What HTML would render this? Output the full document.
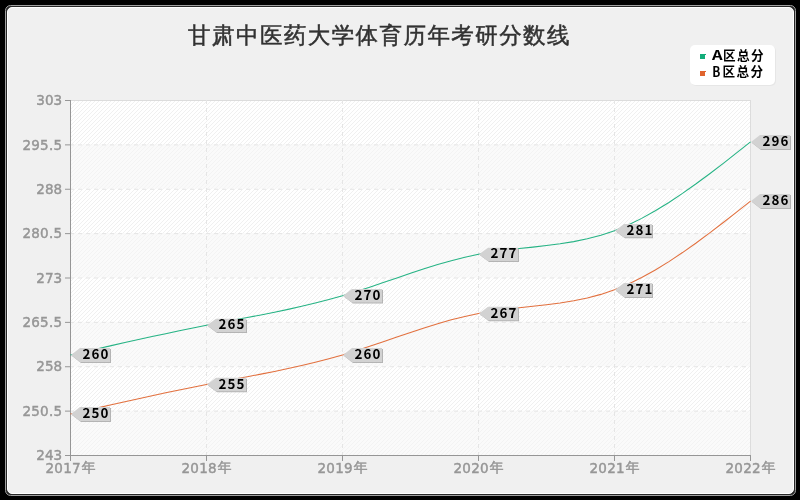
<!DOCTYPE html>
<html lang="zh"><head><meta charset="utf-8"><title>甘肃中医药大学体育历年考研分数线</title><style>html,body{margin:0;padding:0;background:#000;overflow:hidden}
svg{display:block}
.t{font-family:'DejaVu Sans','WenQuanYi Zen Hei','Liberation Sans','Noto Sans CJK SC',sans-serif;font-size:13.5px;fill:#969696;stroke:#969696;stroke-width:.45px}
.c{font-family:'WenQuanYi Zen Hei','Noto Sans CJK SC',sans-serif;font-size:13.8px}
.b{font-family:'Noto Sans CJK SC','Liberation Sans',sans-serif;font-weight:bold;font-size:14px;fill:#000}
.d{font-size:13.4px;letter-spacing:1.15px}
.l{font-size:13.4px}
.k{font-size:12.6px;letter-spacing:1.4px}
.h{font-family:'WenQuanYi Zen Hei','Noto Sans CJK SC','Liberation Sans',sans-serif;font-size:22.5px;letter-spacing:1.43px;fill:#323232;stroke:#323232;stroke-width:.5px}
</style></head><body>
<svg width="800" height="500" viewBox="0 0 800 500">
<defs><pattern id="st" width="4" height="4" patternUnits="userSpaceOnUse" x="71" y="101"><path d="M-1,5 L5,-1 M-1,1 L1,-1 M3,5 L5,3" stroke="#f0f0f0" stroke-width="1" fill="none"/></pattern></defs>
<rect width="800" height="500" fill="#000"/>
<rect x="5.5" y="5.5" width="790" height="490" rx="5" fill="#262626" stroke="#a0a0a0"/>
<rect x="7.5" y="7.5" width="786" height="486" rx="4.5" fill="#f0f0f0" stroke="#fff"/>
<rect x="70" y="100" width="681" height="356" fill="#fff"/>
<rect x="70" y="100" width="681" height="356" fill="url(#st)"/>
<rect x="70.5" y="100.5" width="680" height="355" fill="none" stroke="#dcdcdc"/>
<rect x="71" y="410.62" width="679" height="44.38" fill="rgba(245,245,245,0.5)"/>
<rect x="71" y="321.88" width="679" height="44.38" fill="rgba(245,245,245,0.5)"/>
<rect x="71" y="233.12" width="679" height="44.38" fill="rgba(245,245,245,0.5)"/>
<rect x="71" y="144.38" width="679" height="44.38" fill="rgba(245,245,245,0.5)"/>
<line x1="70" y1="411.12" x2="750" y2="411.12" stroke="#e5e5e5" stroke-dasharray="4 4"/>
<line x1="70" y1="366.75" x2="750" y2="366.75" stroke="#e5e5e5" stroke-dasharray="4 4"/>
<line x1="70" y1="322.38" x2="750" y2="322.38" stroke="#e5e5e5" stroke-dasharray="4 4"/>
<line x1="70" y1="278.00" x2="750" y2="278.00" stroke="#e5e5e5" stroke-dasharray="4 4"/>
<line x1="70" y1="233.62" x2="750" y2="233.62" stroke="#e5e5e5" stroke-dasharray="4 4"/>
<line x1="70" y1="189.25" x2="750" y2="189.25" stroke="#e5e5e5" stroke-dasharray="4 4"/>
<line x1="70" y1="144.88" x2="750" y2="144.88" stroke="#e5e5e5" stroke-dasharray="4 4"/>
<line x1="206.5" y1="100" x2="206.5" y2="455" stroke="#e5e5e5" stroke-dasharray="4 4"/>
<line x1="342.5" y1="100" x2="342.5" y2="455" stroke="#e5e5e5" stroke-dasharray="4 4"/>
<line x1="478.5" y1="100" x2="478.5" y2="455" stroke="#e5e5e5" stroke-dasharray="4 4"/>
<line x1="614.5" y1="100" x2="614.5" y2="455" stroke="#e5e5e5" stroke-dasharray="4 4"/>
<line x1="70.5" y1="100" x2="70.5" y2="456" stroke="#969696"/>
<line x1="70" y1="455.5" x2="751" y2="455.5" stroke="#969696"/>
<line x1="65" y1="455.50" x2="70" y2="455.50" stroke="#969696"/>
<line x1="65" y1="411.12" x2="70" y2="411.12" stroke="#969696"/>
<line x1="65" y1="366.75" x2="70" y2="366.75" stroke="#969696"/>
<line x1="65" y1="322.38" x2="70" y2="322.38" stroke="#969696"/>
<line x1="65" y1="278.00" x2="70" y2="278.00" stroke="#969696"/>
<line x1="65" y1="233.62" x2="70" y2="233.62" stroke="#969696"/>
<line x1="65" y1="189.25" x2="70" y2="189.25" stroke="#969696"/>
<line x1="65" y1="144.88" x2="70" y2="144.88" stroke="#969696"/>
<line x1="65" y1="100.50" x2="70" y2="100.50" stroke="#969696"/>
<line x1="70.5" y1="455" x2="70.5" y2="461" stroke="#969696"/>
<line x1="206.5" y1="455" x2="206.5" y2="461" stroke="#969696"/>
<line x1="342.5" y1="455" x2="342.5" y2="461" stroke="#969696"/>
<line x1="478.5" y1="455" x2="478.5" y2="461" stroke="#969696"/>
<line x1="614.5" y1="455" x2="614.5" y2="461" stroke="#969696"/>
<line x1="750.5" y1="455" x2="750.5" y2="461" stroke="#969696"/>
<polyline points="70.50,354.92 84.10,351.81 97.70,348.71 111.30,345.63 124.90,342.58 138.50,339.56 152.10,336.59 165.70,333.67 179.30,330.82 192.90,328.04 206.50,325.33 220.10,322.71 233.70,320.14 247.30,317.56 260.90,314.94 274.50,312.23 288.10,309.38 301.70,306.36 315.30,303.11 328.90,299.59 342.50,295.75 356.10,291.58 369.70,287.15 383.30,282.55 396.90,277.90 410.50,273.29 424.10,268.82 437.70,264.59 451.30,260.70 464.90,257.24 478.50,254.33 492.10,252.02 505.70,250.16 519.30,248.59 532.90,247.13 546.50,245.60 560.10,243.82 573.70,241.61 587.30,238.81 600.90,235.22 614.50,230.67 628.10,225.03 641.70,218.37 655.30,210.80 668.90,202.44 682.50,193.39 696.10,183.78 709.70,173.71 723.30,163.30 736.90,152.67 750.50,141.92" fill="none" stroke="#12ad7a" stroke-width="1.05" stroke-opacity=".92"/>
<polyline points="70.50,414.08 84.10,410.98 97.70,407.88 111.30,404.80 124.90,401.75 138.50,398.73 152.10,395.76 165.70,392.84 179.30,389.98 192.90,387.20 206.50,384.50 220.10,381.88 233.70,379.30 247.30,376.73 260.90,374.11 274.50,371.40 288.10,368.55 301.70,365.52 315.30,362.27 328.90,358.75 342.50,354.92 356.10,350.74 369.70,346.31 383.30,341.72 396.90,337.07 410.50,332.46 424.10,327.98 437.70,323.75 451.30,319.86 464.90,316.41 478.50,313.50 492.10,311.18 505.70,309.33 519.30,307.76 532.90,306.30 546.50,304.77 560.10,302.99 573.70,300.78 587.30,297.97 600.90,294.38 614.50,289.83 628.10,284.20 641.70,277.54 655.30,269.97 668.90,261.61 682.50,252.56 696.10,242.95 709.70,232.88 723.30,222.47 736.90,211.83 750.50,201.08" fill="none" stroke="#e0642e" stroke-width="1.05" stroke-opacity=".92"/>
<polygon points="72.00,355.92 81.00,349.00 111.00,349.00 111.00,363.00 81.00,363.00" fill="#b4b4b4"/><polygon points="71.00,354.92 80.00,348.00 110.00,348.00 110.00,362.00 80.00,362.00" fill="#d2d2d2"/>
<polygon points="208.00,326.33 217.00,319.63 247.00,319.63 247.00,333.03 217.00,333.03" fill="#b4b4b4"/><polygon points="207.00,325.33 216.00,318.63 246.00,318.63 246.00,332.03 216.00,332.03" fill="#d2d2d2"/>
<polygon points="344.00,296.75 353.00,290.00 383.00,290.00 383.00,303.45 353.00,303.45" fill="#b4b4b4"/><polygon points="343.00,295.75 352.00,289.00 382.00,289.00 382.00,302.45 352.00,302.45" fill="#d2d2d2"/>
<polygon points="480.00,255.33 489.00,248.63 519.00,248.63 519.00,262.03 489.00,262.03" fill="#b4b4b4"/><polygon points="479.00,254.33 488.00,247.63 518.00,247.63 518.00,261.03 488.00,261.03" fill="#d2d2d2"/>
<polygon points="616.00,231.67 625.00,224.97 653.00,224.97 653.00,238.37 625.00,238.37" fill="#b4b4b4"/><polygon points="615.00,230.67 624.00,223.97 652.00,223.97 652.00,237.37 624.00,237.37" fill="#d2d2d2"/>
<polygon points="752.00,142.92 761.00,136.00 791.00,136.00 791.00,150.00 761.00,150.00" fill="#b4b4b4"/><polygon points="751.00,141.92 760.00,135.00 790.00,135.00 790.00,149.00 760.00,149.00" fill="#d2d2d2"/>
<polygon points="72.00,415.08 81.00,408.00 111.00,408.00 111.00,422.00 81.00,422.00" fill="#b4b4b4"/><polygon points="71.00,414.08 80.00,407.00 110.00,407.00 110.00,421.00 80.00,421.00" fill="#d2d2d2"/>
<polygon points="208.00,385.50 217.00,378.80 247.00,378.80 247.00,392.20 217.00,392.20" fill="#b4b4b4"/><polygon points="207.00,384.50 216.00,377.80 246.00,377.80 246.00,391.20 216.00,391.20" fill="#d2d2d2"/>
<polygon points="344.00,355.92 353.00,349.00 383.00,349.00 383.00,363.00 353.00,363.00" fill="#b4b4b4"/><polygon points="343.00,354.92 352.00,348.00 382.00,348.00 382.00,362.00 352.00,362.00" fill="#d2d2d2"/>
<polygon points="480.00,314.50 489.00,307.80 519.00,307.80 519.00,321.20 489.00,321.20" fill="#b4b4b4"/><polygon points="479.00,313.50 488.00,306.80 518.00,306.80 518.00,320.20 488.00,320.20" fill="#d2d2d2"/>
<polygon points="616.00,290.83 625.00,284.00 653.00,284.00 653.00,298.00 625.00,298.00" fill="#b4b4b4"/><polygon points="615.00,289.83 624.00,283.00 652.00,283.00 652.00,297.00 624.00,297.00" fill="#d2d2d2"/>
<polygon points="752.00,202.08 761.00,195.00 791.00,195.00 791.00,209.00 761.00,209.00" fill="#b4b4b4"/><polygon points="751.00,201.08 760.00,194.00 790.00,194.00 790.00,208.00 760.00,208.00" fill="#d2d2d2"/>
<rect x="691" y="46" width="85" height="40" rx="5" fill="#e6e6e6"/>
<rect x="690" y="45" width="85" height="40" rx="5" fill="#fff"/>
<path d="M700,54h6v1h-1v4h-5z" fill="#12ad7a"/>
<path d="M700,71h6v1h-1v4h-5z" fill="#e0642e"/>
<g style="filter:grayscale(1)"><text x="62.1" y="460.1" text-anchor="end" class="t">243</text>
<text x="62.3" y="415.7" text-anchor="end" class="t" letter-spacing=".25">250.5</text>
<text x="62.1" y="371.4" text-anchor="end" class="t">258</text>
<text x="62.3" y="327.0" text-anchor="end" class="t" letter-spacing=".25">265.5</text>
<text x="62.1" y="282.6" text-anchor="end" class="t">273</text>
<text x="62.3" y="238.2" text-anchor="end" class="t" letter-spacing=".25">280.5</text>
<text x="62.1" y="193.8" text-anchor="end" class="t">288</text>
<text x="62.3" y="149.5" text-anchor="end" class="t" letter-spacing=".25">295.5</text>
<text x="62.1" y="105.1" text-anchor="end" class="t">303</text>
<text x="45.4" y="472.8" class="t"><tspan letter-spacing=".3">2017</tspan><tspan class="c" dx="0.9" dy="-0.5">年</tspan></text>
<text x="181.4" y="472.8" class="t"><tspan letter-spacing=".3">2018</tspan><tspan class="c" dx="0.9" dy="-0.5">年</tspan></text>
<text x="317.4" y="472.8" class="t"><tspan letter-spacing=".3">2019</tspan><tspan class="c" dx="0.9" dy="-0.5">年</tspan></text>
<text x="453.4" y="472.8" class="t"><tspan letter-spacing=".3">2020</tspan><tspan class="c" dx="0.9" dy="-0.5">年</tspan></text>
<text x="589.4" y="472.8" class="t"><tspan letter-spacing=".3">2021</tspan><tspan class="c" dx="0.9" dy="-0.5">年</tspan></text>
<text x="725.4" y="472.8" class="t"><tspan letter-spacing=".3">2022</tspan><tspan class="c" dx="0.9" dy="-0.5">年</tspan></text>
<text x="82.5" y="359.0" class="b d">260</text>
<text x="218.5" y="329.4" class="b d">265</text>
<text x="354.5" y="299.9" class="b d">270</text>
<text x="490.5" y="258.4" class="b d">277</text>
<text x="626.5" y="234.8" class="b d">281</text>
<text x="762.5" y="146.0" class="b d">296</text>
<text x="82.5" y="418.2" class="b d">250</text>
<text x="218.5" y="388.6" class="b d">255</text>
<text x="354.5" y="359.0" class="b d">260</text>
<text x="490.5" y="317.6" class="b d">267</text>
<text x="626.5" y="293.9" class="b d">271</text>
<text x="762.5" y="205.2" class="b d">286</text>
<text x="712" y="60" class="b"><tspan class="l" textLength="10.6" lengthAdjust="spacingAndGlyphs">A</tspan><tspan class="k" x="723.1" y="59.5">区总分</tspan></text>
<text x="712.3" y="76.9" class="b"><tspan textLength="8.1" lengthAdjust="spacingAndGlyphs">B</tspan><tspan class="k" x="722.4" y="76.4">区总分</tspan></text>
<text x="188.1" y="43" class="h">甘肃中医药大学体育历年考研分数线</text></g>
</svg>
</body></html>
